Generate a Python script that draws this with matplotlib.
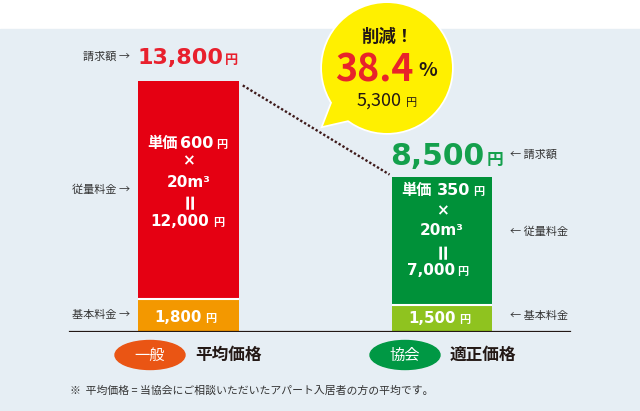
import matplotlib
matplotlib.use("Agg")
import matplotlib.pyplot as plt
import matplotlib.transforms as mtransforms
from matplotlib.patches import Rectangle, Ellipse, Circle, Polygon

# data
categories = ['平均価格', '適正価格']
tags = ['一般', '協会']
unit_price = [600, 350]
volume = [20, 20]
base_fee = [1800, 1500]
usage_fee = [12000, 7000]

totals = [b + u for b, u in zip(base_fee, usage_fee)]
saving = totals[0] - totals[1]
saving_pct = saving / totals[0] * 100

CJK = 'Noto Sans CJK JP'
NUM = 'DejaVu Sans'
DARK = '#231815'
BG = '#e6eef4'
usage_colors = ['#e50012', '#009139']
base_colors = ['#f39800', '#8fc31f']
total_colors = ['#e8202d', '#14a04c']
tag_colors = ['#ea5514', '#009844']

W, H = 640, 411
fig = plt.figure(figsize=(W / 100, H / 100), dpi=100)
fig.patch.set_facecolor('white')
fig.add_artist(Rectangle((0, 0), 1, 382 / H, transform=fig.transFigure,
                         color=BG, zorder=-1))

# pixel coordinates, origin top-left
T = mtransforms.Affine2D().scale(1 / W, -1 / H).translate(0, 1) + fig.transFigure

ax = fig.add_axes([0, 79 / H, 1, 303 / H])
ax.set_facecolor('none')
ax.axis('off')
ax.set_xlim(-0.7436, 1.781)
ax.set_ylim(0, 16650)

w = 0.398
x = [0, 1]
ax.bar(x, base_fee, width=w, color=base_colors, zorder=2)
ax.bar(x, usage_fee, width=w, bottom=base_fee, color=usage_colors, zorder=2)
for i in x:
    ax.hlines(base_fee[i], i - w / 2, i + w / 2, color='white', lw=1.5, zorder=3)

ax.axhline(0, xmin=70 / W, xmax=570 / W, color=DARK, lw=1.6, zorder=3)

# dotted connector between bar tops
ax.plot([x[0] + w / 2 + 0.015, x[1] - w / 2 - 0.008], [totals[0] - 250, totals[1] + 150],
        color='#3e1a1a', lw=1.7, ls=(0, (1, 0.9)), zorder=3)


def t(px, py, s, size, color=DARK, family=CJK, weight='normal', ha='left', va='baseline', **kw):
    ax.text(px, py, s, transform=T, fontsize=size, color=color, family=family,
            fontweight=weight, ha=ha, va=va, clip_on=False, zorder=6, **kw)


# totals above bars
t(137, 64, f'{totals[0]:,}', 16, total_colors[0], NUM, 'bold')
t(225, 64, '円', 9.5, total_colors[0], CJK, 'bold')
t(390, 165, f'{totals[1]:,}', 21.5, total_colors[1], NUM, 'bold')
t(487, 165, '円', 12, total_colors[1], CJK, 'bold')

# side labels
t(130, 57, '請求額 →', 8, '#333333', ha='right', va='center')
t(130, 190, '従量料金 →', 8, '#333333', ha='right', va='center')
t(130, 315, '基本料金 →', 8, '#333333', ha='right', va='center')
t(510, 155, '← 請求額', 8, '#333333', va='center')
t(510, 232, '← 従量料金', 8, '#333333', va='center')
t(510, 316, '← 基本料金', 8, '#333333', va='center')

# usage breakdown inside bars
layout = [
    dict(cx=188.5, x0=147, xn=180, xy=216, r1=148, rx=161, rm=187, re=200, rt=226, xt=150, xty=213),
    dict(cx=442, x0=401, xn=437, xy=473, r1=195, rx=211, rm=235, re=250, rt=275, xt=407, xty=457),
]
for i, L in enumerate(layout):
    t(L['x0'], L['r1'], '単価', 11, 'white', CJK, 'bold')
    t(L['xn'], L['r1'], f'{unit_price[i]}', 11.5, 'white', NUM, 'bold')
    t(L['xy'], L['r1'], '円', 8, 'white', CJK, 'bold')
    t(L['cx'], L['rx'], '×', 11, 'white', NUM, 'bold', ha='center', va='center')
    t(L['cx'], L['rm'], f'{volume[i]}m³', 11, 'white', NUM, 'bold', ha='center')
    t(L['cx'] + 1, L['re'], '=', 15, 'white', NUM, 'bold', ha='center', va='center',
      rotation=90, rotation_mode='anchor')
    t(L['xt'], L['rt'], f'{usage_fee[i]:,}', 11, 'white', NUM, 'bold')
    t(L['xty'], L['rt'], '円', 8, 'white', CJK, 'bold')

# base fee labels
t(154, 322, f'{base_fee[0]:,}', 10.8, 'white', NUM, 'bold')
t(205, 322, '円', 8, 'white', CJK, 'bold')
t(408, 323, f'{base_fee[1]:,}', 10.8, 'white', NUM, 'bold')
t(459, 323, '円', 8, 'white', CJK, 'bold')

# category tags
for cx, tag, col, cat in [(150, tags[0], tag_colors[0], categories[0]),
                          (405, tags[1], tag_colors[1], categories[1])]:
    ax.add_patch(Ellipse((cx, 355), 70, 29, transform=T, color=col, zorder=4, clip_on=False))
    t(cx, 355, tag, 11, 'white', ha='center', va='center')
    t(cx + 45, 355, cat, 12, DARK, weight='bold', va='center')

# footnote
t(70, 391, '※  平均価格 = 当協会にご相談いただいたアパート入居者の方の平均です。', 7.8,
  '#333333', va='center')

# speech bubble
tail = [(333, 100), (323, 126), (358, 118)]
ax.add_patch(Polygon(tail, closed=True, transform=T, fc='#fff000', ec='white', lw=2.5,
                     zorder=4, clip_on=False))
ax.add_patch(Circle((387, 68), 65, transform=T, fc='#fff000', ec='white', lw=2.5,
                    zorder=4, clip_on=False))
ax.add_patch(Polygon(tail, closed=True, transform=T, fc='#fff000', ec='none',
                     zorder=5, clip_on=False))
ax.add_patch(Circle((387, 68), 65, transform=T, fc='#fff000', ec='none',
                    zorder=5, clip_on=False))
t(387, 37, '削減！', 12.5, DARK, weight='bold', ha='center', va='center')
t(335, 82, f'{saving_pct:.1f}', 27, '#e8242a', weight='bold')
t(418, 76, '%', 14, DARK, weight='bold')
t(357, 106, f'{saving:,}', 13, DARK)
t(406, 106, '円', 8, DARK)

fig.savefig('out.png', dpi=100)
